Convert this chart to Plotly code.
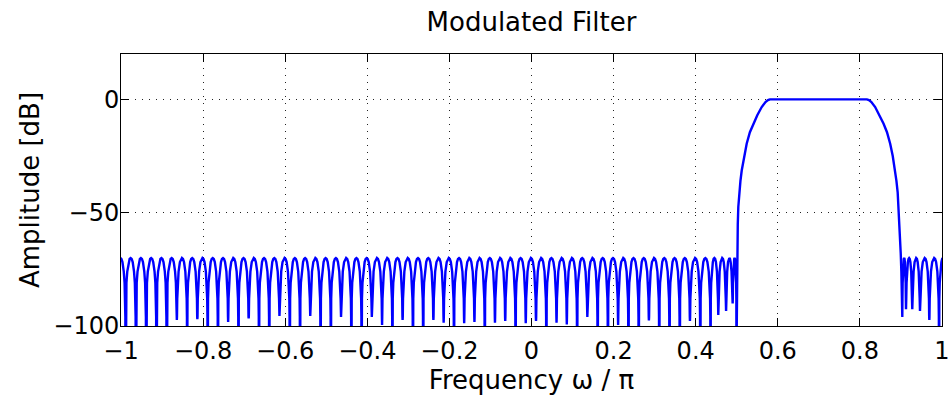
import plotly.graph_objects as go

# ---------------- data ----------------
# Stop-band sidelobe nulls below the passband (frequency w/pi) and their depth in dB
# (-140 = null falls below the -100 dB floor of the plot; first entry lies just left of -1)
left_null_f = [-1.014, -0.989, -0.964, -0.939, -0.914, -0.889, -0.864, -0.839, -0.814, -0.789,
               -0.764, -0.739, -0.714, -0.689, -0.664, -0.639, -0.614, -0.589, -0.564, -0.539,
               -0.514, -0.489, -0.464, -0.439, -0.414, -0.389, -0.364, -0.339, -0.314, -0.289,
               -0.264, -0.239, -0.214, -0.189, -0.164, -0.139, -0.114, -0.089, -0.064, -0.039,
               -0.014, 0.011, 0.036, 0.061, 0.086, 0.111, 0.136, 0.161, 0.186, 0.211,
               0.236, 0.261, 0.286, 0.311, 0.336, 0.361, 0.386, 0.411, 0.436, 0.455,
               0.474, 0.490, 0.4994]
left_null_db = [-140,
                -140, -140, -140, -140, -140, -97.3, -140, -97.0, -140, -140,
                -98.2, -140, -96.6, -140, -140, -95.6, -140, -140, -95.6, -140,
                -140, -96.0, -140, -140, -96.0, -99.6, -140, -97.3, -140, -140,
                -97.3, -98.5, -140, -98.8, -98.2, -140, -98.5, -97.8, -140, -98.8,
                -97.8, -140, -98.5, -99.3, -140, -96.0, -140, -140, -99.6, -140,
                -140, -97.5, -140, -140, -140, -97.8, -140, -140, -95.1, -93.4,
                -90.1, -140]

# Stop-band nulls above the passband (last entry lies just right of 1)
right_null_f = [0.9033, 0.9123, 0.9276, 0.9464, 0.9691, 0.9927, 1.012]
right_null_db = [-96.0, -92.6, -92.6, -93.4, -97.3, -140, -140]

# Equiripple sidelobe peak level and the shape of one sidelobe between two nulls
sidelobe_peak_db = -70.0
lobe_shape_pos = [0.0, 0.015, 0.04, 0.09, 0.17, 0.3, 0.4, 0.5, 0.6, 0.7, 0.83, 0.91, 0.96, 0.985, 1.0]
lobe_shape_rel_db = [None, -26, -18, -11, -6, -1.8, -0.4, 0, -0.4, -1.8, -6, -11, -18, -26, None]

# Transition bands and flat passband
band_f = [0.5000, 0.5006, 0.5014, 0.5025, 0.5038, 0.5060, 0.5090, 0.5121, 0.5180, 0.5242,
          0.5320, 0.5403, 0.5500, 0.5608, 0.5700, 0.5760, 0.5810,
          0.62, 0.66, 0.70, 0.74, 0.78,
          0.8170, 0.8220, 0.8280, 0.8372, 0.8480, 0.8577, 0.8660, 0.8738, 0.8800, 0.8859,
          0.8890, 0.8920, 0.8942, 0.8962, 0.8978, 0.8995, 0.9010, 0.9025]
band_db = [-100, -80, -65, -55, -47.5, -41, -36, -31.4, -25, -19.6,
           -14.5, -10.8, -7, -3.4, -1.2, -0.35, 0,
           0, 0, 0, 0, 0,
           0, -0.35, -1.2, -3.4, -7, -10.8, -14.5, -19.6, -25, -31.4,
           -36, -41, -47.5, -53, -60, -68, -76, -88]

x_tick_vals = [-1, -0.8, -0.6, -0.4, -0.2, 0, 0.2, 0.4, 0.6, 0.8, 1]
x_tick_text = ["\u22121", "\u22120.8", "\u22120.6", "\u22120.4", "\u22120.2", "0",
               "0.2", "0.4", "0.6", "0.8", "1"]
y_tick_vals = [-100, -50, 0]
y_tick_text = ["\u2212100", "\u221250", "0"]


def lobes(null_f, null_db):
    xs, ys = [null_f[0]], [null_db[0]]
    for i in range(len(null_f) - 1):
        f0, f1 = null_f[i], null_f[i + 1]
        d0, d1 = null_db[i], null_db[i + 1]
        for p, r in zip(lobe_shape_pos[1:-1], lobe_shape_rel_db[1:-1]):
            level = sidelobe_peak_db + r
            bound = d0 if p < 0.5 else d1
            if level <= bound:
                continue
            xs.append(f0 + p * (f1 - f0))
            ys.append(level)
        xs.append(f1)
        ys.append(d1)
    return xs, ys


lx, ly = lobes(left_null_f, left_null_db)
rx, ry = lobes(right_null_f, right_null_db)
x_all = lx + band_f + rx
y_all = ly + band_db + ry

fig = go.Figure()
fig.add_trace(go.Scatter(x=x_all, y=y_all, mode="lines",
                         line=dict(color="#0000FF", width=2.4),
                         showlegend=False, hoverinfo="skip"))

font_family = "DejaVu Sans"
axis_common = dict(
    showline=True, linecolor="black", linewidth=1, mirror="ticks",
    ticks="inside", ticklen=8, tickcolor="black", tickwidth=1,
    showgrid=True, gridcolor="#222222", gridwidth=1, griddash="1px,6px",
    zeroline=False, automargin=False,
    tickfont=dict(family=font_family, size=24, color="black"),
)

fig.update_layout(
    template="none",
    width=952, height=400,
    margin=dict(l=121, r=10, t=54, b=74, autoexpand=False),
    paper_bgcolor="white", plot_bgcolor="white",
    title=dict(text="Modulated Filter", x=0.5, xref="paper", xanchor="center",
               y=1 - 22 / 400, yref="container", yanchor="middle",
               font=dict(family=font_family, size=26, color="black")),
    xaxis=dict(range=[-1, 1], tickvals=x_tick_vals, ticktext=x_tick_text,
               ticklabelstandoff=3,
               title=dict(text="Frequency \u03c9 / \u03c0", standoff=2,
                          font=dict(family=font_family, size=26, color="black")),
               **axis_common),
    yaxis=dict(range=[-100, 20], tickvals=y_tick_vals, ticktext=y_tick_text,
               ticklabelstandoff=-4,
               title=dict(text="Amplitude [dB]", standoff=6,
                          font=dict(family=font_family, size=26, color="black")),
               **axis_common),
)

fig.write_html("out.html")
